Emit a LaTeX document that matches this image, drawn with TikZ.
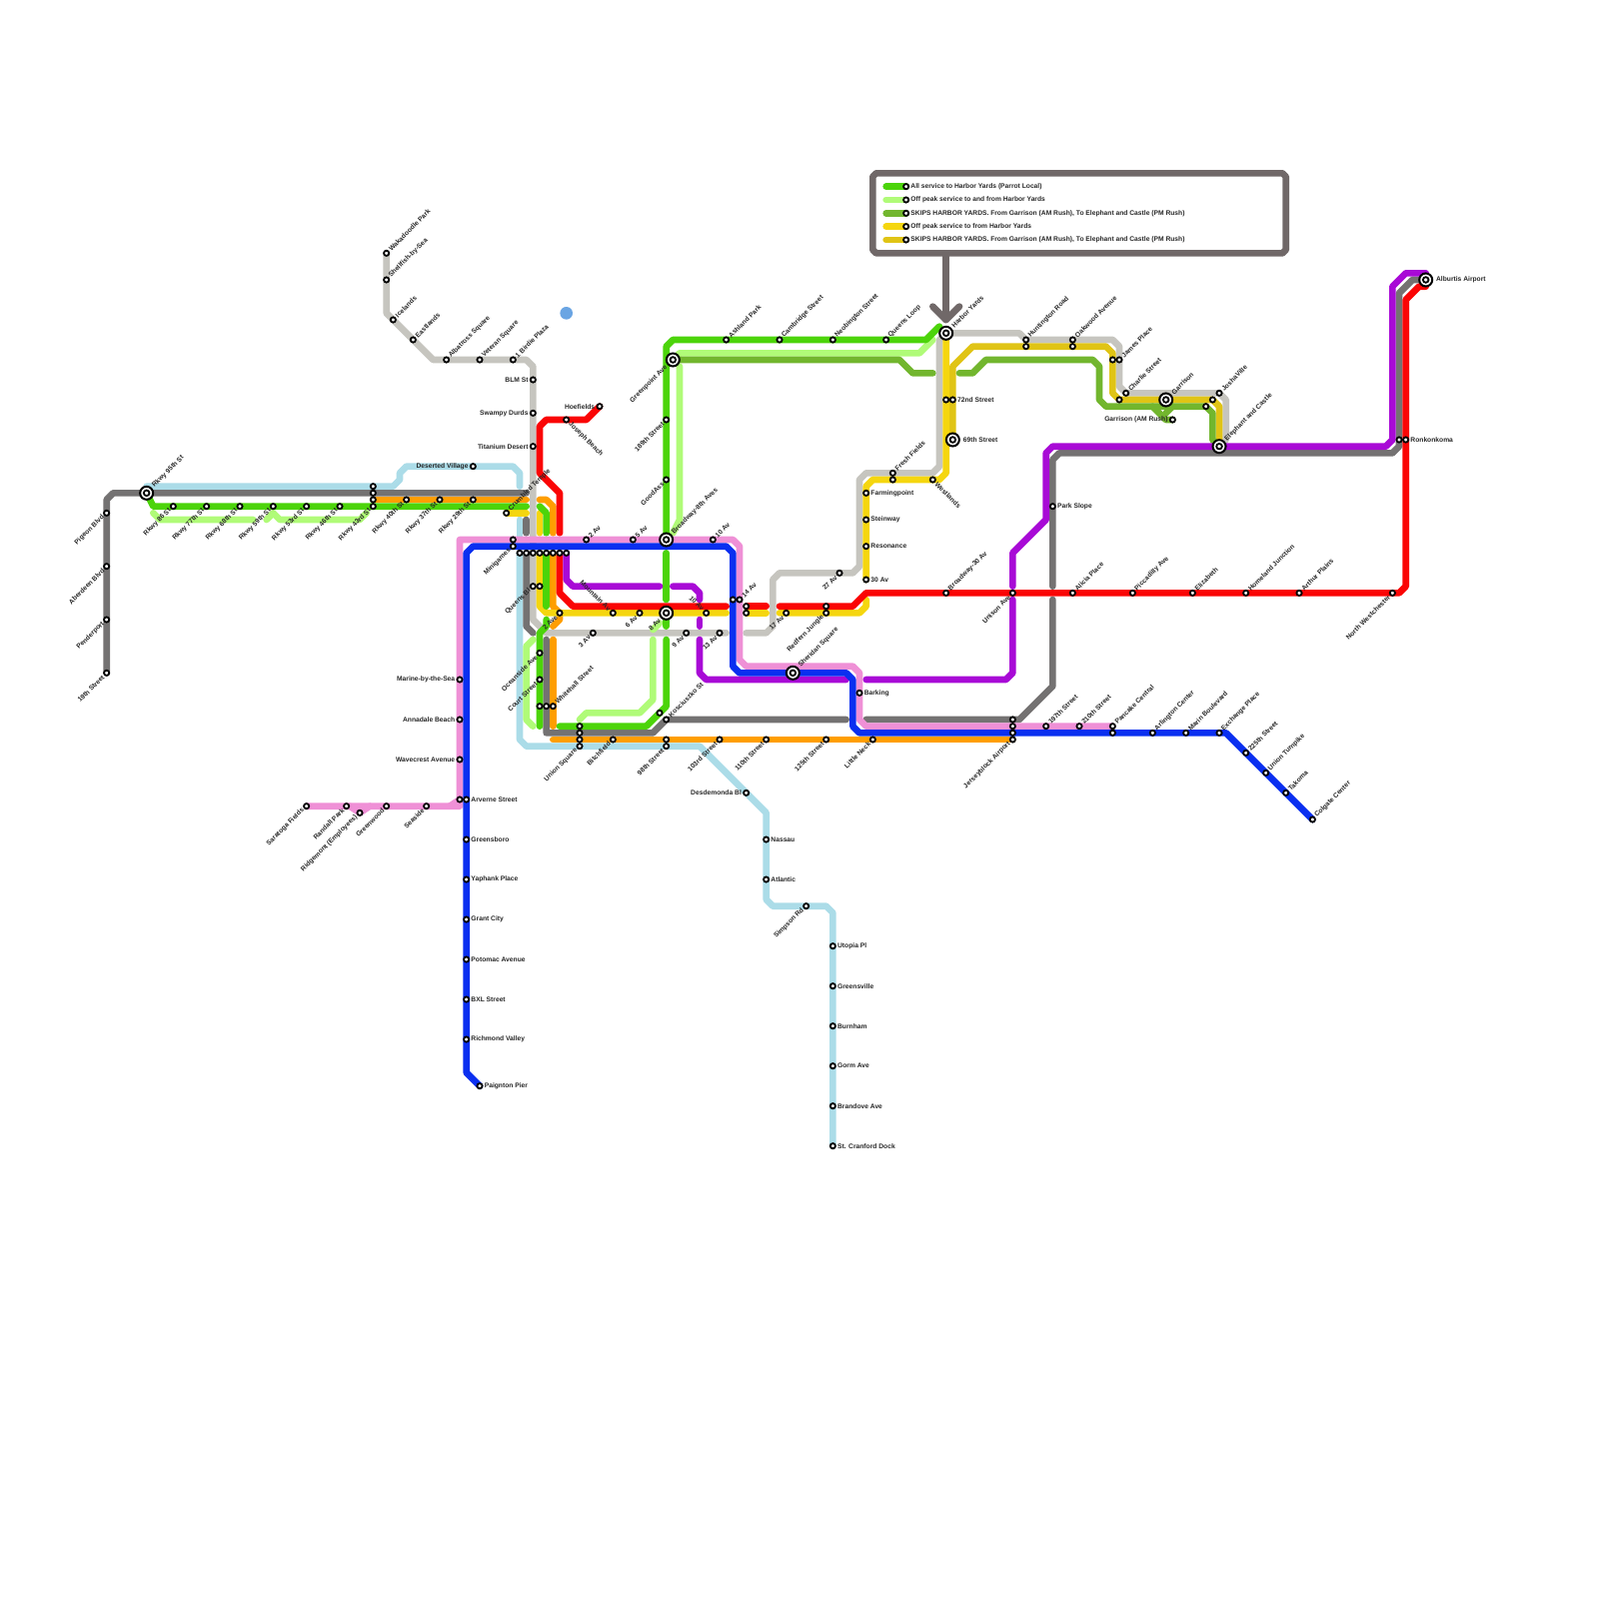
\documentclass[tikz,border=0pt]{standalone}
\usepackage{fontspec}
\setmainfont{Liberation Sans}
\usetikzlibrary{backgrounds}
\definecolor{lnGreen}{HTML}{4CD40A}
\definecolor{lnLime}{HTML}{B0FB78}
\definecolor{lnMoss}{HTML}{72B62E}
\definecolor{lnYellow}{HTML}{F5D60F}
\definecolor{lnGold}{HTML}{E0C415}
\definecolor{lnOrange}{HTML}{FF9E00}
\definecolor{lnRed}{HTML}{FA0505}
\definecolor{lnBlue}{HTML}{0A2FF0}
\definecolor{lnPink}{HTML}{EF90D6}
\definecolor{lnPurple}{HTML}{A80AD6}
\definecolor{lnGray}{HTML}{747272}
\definecolor{lnSilver}{HTML}{C6C5BF}
\definecolor{lnSky}{HTML}{ABDCE8}
\definecolor{lnBox}{HTML}{706868}
\definecolor{lnDot}{HTML}{6AA5E3}
\begin{document}
\begin{tikzpicture}[
  x=1mm, y=-1mm,
  stn/.style={circle, draw=black, fill=white, line width=.27mm, inner sep=0pt, minimum size=.78mm},
  hub/.style={circle, draw=black, fill=white, line width=.3mm, inner sep=0pt, minimum size=1.95mm,
    path picture={\draw[black, line width=.27mm] (path picture bounding box.center) circle (.42mm);}},
  edge/.style={line width=1mm, line cap=round, line join=round},
  lab/.style={font=\fontsize{2.86pt}{3pt}\selectfont\bfseries, inner ysep=0pt, inner xsep=.65mm, text=black!85},
  ne/.style={append after command={(\tikzlastnode.center) node[lab, rotate=45, anchor=west] {#1}}},
  sw/.style={append after command={(\tikzlastnode.center) node[lab, rotate=45, anchor=east] {#1}}},
  se/.style={append after command={(\tikzlastnode.center) node[lab, rotate=-45, anchor=west] {#1}}},
  nw/.style={append after command={(\tikzlastnode.center) node[lab, rotate=-45, anchor=east] {#1}}},
  rt/.style={append after command={(\tikzlastnode.center) node[lab, anchor=west] {#1}}},
  lf/.style={append after command={(\tikzlastnode.center) node[lab, anchor=east] {#1}}},
  hne/.style={append after command={(\tikzlastnode.center) node[lab, inner xsep=1.35mm, rotate=45, anchor=west] {#1}}},
  hsw/.style={append after command={(\tikzlastnode.center) node[lab, inner xsep=1.35mm, rotate=45, anchor=east] {#1}}},
  hrt/.style={append after command={(\tikzlastnode.center) node[lab, inner xsep=1.5mm, anchor=west] {#1}}}
]
  \useasboundingbox (0,0) rectangle (240,240);

  % Legend
  \node[stn, rt={All service to Harbor Yards (Parrot Local)}] (leg1) at (136,28) {};
  \node[stn, rt={Off peak service to and from Harbor Yards}] (leg2) at (136,30) {};
  \node[stn, rt={SKIPS HARBOR YARDS. From Garrison (AM Rush), To Elephant and Castle (PM Rush)}] (leg3) at (136,32) {};
  \node[stn, rt={Off peak service to from Harbor Yards}] (leg4) at (136,34) {};
  \node[stn, rt={SKIPS HARBOR YARDS. From Garrison (AM Rush), To Elephant and Castle (PM Rush)}] (leg5) at (136,36) {};
  \coordinate (swatch1) at (133,28);
  \coordinate (swatch2) at (133,30);
  \coordinate (swatch3) at (133,32);
  \coordinate (swatch4) at (133,34);
  \coordinate (swatch5) at (133,36);
  \coordinate (stemTop) at (142,38);
  \coordinate (stemTip) at (142,48);
  \coordinate (tipLeft) at (140,46);
  \coordinate (tipRight) at (144,46);
  \node[circle, fill=lnDot, inner sep=0pt, minimum size=1.9mm] (dot) at (85,47) {};

  % Parkway and west side
  \node[stn, sw={Pigeon Blvd}] (pigeon) at (16,77) {};
  \node[stn, sw={Aberdeen Blvd}] (aberdeen) at (16,85) {};
  \node[stn, sw={Penderport}] (penderport) at (16,93) {};
  \node[stn, sw={19th Street}] (st19) at (16,101) {};
  \node[hub, hne={Rkwy 95th St}] (rk95) at (22,74) {};
  \node[stn, sw={Rkwy 86 St}] (rk86) at (26,76) {};
  \node[stn, sw={Rkwy 77th St}] (rk77) at (31,76) {};
  \node[stn, sw={Rkwy 68th St}] (rk68) at (36,76) {};
  \node[stn, sw={Rkwy 59th St}] (rk59) at (41,76) {};
  \node[stn, sw={Rkwy 53rd St}] (rk53) at (46,76) {};
  \node[stn, sw={Rkwy 46th St}] (rk46) at (51,76) {};
  \node[stn] (rk43a) at (56,73) {};
  \node[stn] (rk43b) at (56,74) {};
  \node[stn] (rk43c) at (56,75) {};
  \node[stn, sw={Rkwy 43rd St}] (rk43) at (56,76) {};
  \node[stn, sw={Rkwy 40th St}] (rk40) at (61,75) {};
  \node[stn, sw={Rkwy 37th St}] (rk37) at (66,75) {};
  \node[stn, sw={Rkwy 29th St}] (rk29) at (71,75) {};
  \node[stn, lf={Deserted Village}] (deserted) at (71,70) {};
  \node[stn, ne={Crumbled Temple}] (crumbled) at (76,77) {};

  % Silver north branch
  \node[stn, ne={Wakadoodle Park}] (waka) at (58,38) {};
  \node[stn, ne={Shellfish-by-Sea}] (shellfish) at (58,42) {};
  \node[stn, ne={Icelands}] (icelands) at (59,48) {};
  \node[stn, ne={Eastlands}] (eastlands) at (62,51) {};
  \node[stn, ne={Albatross Square}] (albatross) at (67,54) {};
  \node[stn, ne={Veteran Square}] (veteran) at (72,54) {};
  \node[stn, ne={1 Birdie Plaza}] (birdie) at (77,54) {};
  \node[stn, lf={BLM St}] (blm) at (80,57) {};
  \node[stn, lf={Swampy Durds}] (swampy) at (80,62) {};
  \node[stn, lf={Titanium Desert}] (titanium) at (80,67) {};
  \node[stn, lf={Hoefields}] (hoefields) at (90,61) {};
  \node[stn, se={Joseph Beach}] (joseph) at (85,63) {};

  % Central interchange
  \node[stn] (mini1) at (77,81) {};
  \node[stn, sw={Minigames}] (mini) at (77,82) {};
  \node[stn] (rowA) at (78,83) {};
  \node[stn] (rowB) at (79,83) {};
  \node[stn] (rowC) at (80,83) {};
  \node[stn] (rowD) at (81,83) {};
  \node[stn] (rowE) at (82,83) {};
  \node[stn] (rowF) at (83,83) {};
  \node[stn] (rowG) at (84,83) {};
  \node[stn] (rowH) at (85,83) {};
  \node[stn, sw={Queens Bl}] (queens) at (80,88) {};
  \node[stn] (queens2) at (81,88) {};
  \node[stn, ne={2 Av}] (av2n) at (88,81) {};
  \node[stn, ne={5 Av}] (av5) at (95,81) {};
  \node[hub, hne={Broadway-8th Aves}] (bway8) at (100,81) {};
  \node[stn, ne={10 Av}] (av10n) at (107,81) {};
  \node[stn, sw={2 Ave}] (ave2) at (84,92) {};
  \node[stn, nw={Mountain Av}] (mountain) at (92,92) {};
  \node[stn, sw={6 Av}] (av6) at (96,92) {};
  \node[hub, hsw={8 Av}] (av8) at (100,92) {};
  \node[stn, nw={10 Av}] (av10) at (106,92) {};
  \node[stn, sw={3 Av}] (av3) at (89,95) {};
  \node[stn, sw={9 Av}] (av9) at (103,95) {};
  \node[stn, sw={13 Av}] (av13) at (108,95) {};
  \node[stn] (av14a) at (110,90) {};
  \node[stn, ne={14 Av}] (av14) at (111,90) {};
  \node[stn] (av14b) at (112,91) {};
  \node[stn] (av14c) at (112,92) {};
  \node[stn, sw={17 Av}] (av17) at (118,92) {};
  \node[stn] (redfern1) at (124,91) {};
  \node[stn, sw={Redfern Jungle}] (redfern) at (124,92) {};
  \node[stn, sw={27 Av}] (av27) at (126,86) {};
  \node[stn, rt={30 Av}] (av30) at (130,87) {};
  \node[hub, hne={Sheridan Square}] (sheridan) at (119,101) {};
  \node[stn, rt={Barking}] (barking) at (129,104) {};

  % South of the interchange
  \node[stn, sw={Oceanside Ave}] (oceanside) at (81,98) {};
  \node[stn, sw={Court Street}] (court) at (81,102) {};
  \node[stn] (white1) at (81,106) {};
  \node[stn] (white2) at (82,106) {};
  \node[stn, ne={Whitehall Street}] (whitehall) at (83,106) {};
  \node[stn] (kos1) at (99,107) {};
  \node[stn, ne={Kosciuszko St}] (kosciuszko) at (100,108) {};
  \node[stn] (union1) at (87,109) {};
  \node[stn] (union2) at (87,110) {};
  \node[stn] (union3) at (87,111) {};
  \node[stn, sw={Union Square}] (union) at (87,112) {};
  \node[stn, sw={Bitchfield}] (bitchfield) at (92,111) {};
  \node[stn] (st98a) at (100,111) {};
  \node[stn, sw={98th Street}] (st98) at (100,112) {};
  \node[stn, sw={103rd Street}] (st103) at (108,111) {};
  \node[stn, sw={110th Street}] (st110) at (115,111) {};
  \node[stn, sw={125th Street}] (st125) at (124,111) {};
  \node[stn, sw={Little Neck}] (littleneck) at (131,111) {};
  \node[stn, lf={Desdemonda Bl}] (desdemonda) at (112,119) {};
  \node[stn, rt={Nassau}] (nassau) at (115,126) {};
  \node[stn, rt={Atlantic}] (atlantic) at (115,132) {};
  \node[stn, sw={Simpson Rd}] (simpson) at (121,136) {};
  \node[stn, rt={Utopia Pl}] (utopia) at (125,142) {};
  \node[stn, rt={Greensville}] (greensville) at (125,148) {};
  \node[stn, rt={Burnham}] (burnham) at (125,154) {};
  \node[stn, rt={Gorm Ave}] (gorm) at (125,160) {};
  \node[stn, rt={Brandove Ave}] (brandove) at (125,166) {};
  \node[stn, rt={St. Cranford Dock}] (cranford) at (125,172) {};

  % Pink and blue south-west
  \node[stn, lf={Marine-by-the-Sea}] (marine) at (69,102) {};
  \node[stn, lf={Annadale Beach}] (annadale) at (69,108) {};
  \node[stn, lf={Wavecrest Avenue}] (wavecrest) at (69,114) {};
  \node[stn] (arverne1) at (69,120) {};
  \node[stn, rt={Arverne Street}] (arverne) at (70,120) {};
  \node[stn, sw={Saratoga Fields}] (saratoga) at (46,121) {};
  \node[stn, sw={Randall Park}] (randall) at (52,121) {};
  \node[stn, sw={Ridgemont (Employees)}] (ridgemont) at (54,122) {};
  \node[stn, sw={Greenwood}] (greenwood) at (58,121) {};
  \node[stn, sw={Seaside}] (seaside) at (64,121) {};
  \node[stn, rt={Greensboro}] (greensboro) at (70,126) {};
  \node[stn, rt={Yaphank Place}] (yaphank) at (70,132) {};
  \node[stn, rt={Grant City}] (grant) at (70,138) {};
  \node[stn, rt={Potomac Avenue}] (potomac) at (70,144) {};
  \node[stn, rt={BXL Street}] (bxl) at (70,150) {};
  \node[stn, rt={Richmond Valley}] (richmond) at (70,156) {};
  \node[stn, rt={Paignton Pier}] (paignton) at (72,163) {};

  % North side
  \node[hub, hsw={Greenpoint Ave}] (greenpoint) at (101,54) {};
  \node[stn, sw={189th Street}] (st189) at (100,63) {};
  \node[stn, sw={GoodAss}] (goodass) at (100,72) {};
  \node[stn, ne={Ashland Park}] (ashland) at (109,51) {};
  \node[stn, ne={Cambridge Street}] (cambridge) at (117,51) {};
  \node[stn, ne={Neobington Street}] (neobington) at (125,51) {};
  \node[stn, ne={Queens Loop}] (queensloop) at (133,51) {};
  \node[hub, hne={Harbor Yards}] (harbor) at (142,50) {};
  \node[stn] (st72a) at (142,60) {};
  \node[stn, rt={72nd Street}] (st72) at (143,60) {};
  \node[hub, hrt={69th Street}] (st69) at (143,66) {};
  \node[stn, ne={Fresh Fields}] (fresh) at (134,71) {};
  \node[stn] (fresh2) at (134,72) {};
  \node[stn, se={Westlands}] (westlands) at (140,72) {};
  \node[stn, rt={Farmingpoint}] (farming) at (130,74) {};
  \node[stn, rt={Steinway}] (steinway) at (130,78) {};
  \node[stn, rt={Resonance}] (resonance) at (130,82) {};
  \node[stn, ne={Huntington Road}] (huntington) at (154,51) {};
  \node[stn] (huntington2) at (154,52) {};
  \node[stn, ne={Oakwood Avenue}] (oakwood) at (161,51) {};
  \node[stn] (oakwood2) at (161,52) {};
  \node[stn] (james2) at (167,54) {};
  \node[stn, ne={James Place}] (james) at (168,54) {};
  \node[stn] (charlie2) at (168,60) {};
  \node[stn, ne={Charlie Street}] (charlie) at (169,59) {};
  \node[hub, hne={Garrison}] (garrison) at (175,60) {};
  \node[stn, lf={Garrison (AM Rush)}] (garrisonam) at (176,63) {};
  \node[stn] (josha3) at (181,61) {};
  \node[stn] (josha2) at (182,60) {};
  \node[stn, ne={JoshaVille}] (josha) at (183,59) {};
  \node[hub, hne={Elephant and Castle}] (elephant) at (183,67) {};
  \node[stn, rt={Park Slope}] (parkslope) at (158,76) {};
  \node[stn] (ronkon2) at (210,66) {};
  \node[stn, rt={Ronkonkoma}] (ronkon) at (211,66) {};
  \node[hub, hrt={Alburtis Airport}] (alburtis) at (214,42) {};

  % East side
  \node[stn, ne={Broadway-30 Av}] (bway30) at (142,89) {};
  \node[stn, sw={Unison Ave}] (unison) at (152,89) {};
  \node[stn, ne={Alicia Place}] (alicia) at (161,89) {};
  \node[stn, ne={Piccadilly Ave}] (piccadilly) at (170,89) {};
  \node[stn, ne={Elizabeth}] (elizabeth) at (179,89) {};
  \node[stn, ne={Homeland Junction}] (homeland) at (187,89) {};
  \node[stn, ne={Arthur Plains}] (arthur) at (195,89) {};
  \node[stn, sw={North Westchester}] (westchester) at (209,89) {};
  \node[stn] (jersey1) at (152,108) {};
  \node[stn] (jersey2) at (152,109) {};
  \node[stn] (jersey3) at (152,110) {};
  \node[stn, sw={Jerseyblock Airport}] (jersey) at (152,111) {};
  \node[stn, ne={197th Street}] (st197) at (157,109) {};
  \node[stn, ne={210th Street}] (st210) at (162,109) {};
  \node[stn, ne={Pancake Central}] (pancake) at (167,109) {};
  \node[stn] (pancake2) at (167,110) {};
  \node[stn, ne={Arlington Center}] (arlington) at (173,110) {};
  \node[stn, ne={Marin Boulevard}] (marin) at (178,110) {};
  \node[stn, ne={Exchange Place}] (exchange) at (183,110) {};
  \node[stn, ne={225th Street}] (st225) at (187,113) {};
  \node[stn, ne={Union Turnpike}] (turnpike) at (190,116) {};
  \node[stn, ne={Takoma}] (takoma) at (193,119) {};
  \node[stn, ne={Colgate Center}] (colgate) at (197,123) {};

  % Free line ends at the gaps
  \coordinate (skyA) at (78,73);
  \coordinate (skyB) at (78,78);
  \coordinate (skyC) at (78,80.5);
  \coordinate (silverA) at (109,95);
  \coordinate (silverB) at (112,95);
  \coordinate (grayA) at (79,74);
  \coordinate (grayB) at (79,78);
  \coordinate (grayC) at (79,80);
  \coordinate (grayD) at (82,96);
  \coordinate (grayE) at (127,108);
  \coordinate (grayF) at (130,108);
  \coordinate (grayG) at (158,90);
  \coordinate (grayH) at (158,88);
  \coordinate (grayI) at (80,95);
  \coordinate (orangeA) at (79,75);
  \coordinate (orangeB) at (81,75);
  \coordinate (orangeC) at (83,80);
  \coordinate (orangeD) at (83,94);
  \coordinate (orangeE) at (83,96);
  \coordinate (orangeF) at (83,109);
  \coordinate (orangeG) at (83,111);
  \coordinate (yellowA) at (79,77);
  \coordinate (yellowB) at (81,77);
  \coordinate (yellowC) at (81,80);
  \coordinate (yellowD) at (109,92);
  \coordinate (yellowE) at (115,92);
  \coordinate (yellowF) at (117,92);
  \coordinate (yellowG) at (130,90);
  \coordinate (greenA) at (79,76);
  \coordinate (greenB) at (81,76);
  \coordinate (greenC) at (82,80);
  \coordinate (greenD) at (82,91);
  \coordinate (greenE) at (82,93);
  \coordinate (greenF) at (81,109);
  \coordinate (greenG) at (84,109);
  \coordinate (greenH) at (100,90);
  \coordinate (greenI) at (100,96);
  \coordinate (greenJ) at (141,49);
  \coordinate (greenK) at (100,83);
  \coordinate (greenL) at (100,94);
  \coordinate (limeA) at (23,77);
  \coordinate (limeB) at (38,78);
  \coordinate (limeC) at (40,78);
  \coordinate (limeD) at (55,77);
  \coordinate (limeE) at (140,51);
  \coordinate (limeF) at (102,55);
  \coordinate (limeG) at (101,80);
  \coordinate (limeH) at (99,93.5);
  \coordinate (limeI) at (98,94.5);
  \coordinate (limeJ) at (98,96);
  \coordinate (limeK) at (87,108);
  \coordinate (limeL) at (80,96);
  \coordinate (limeM) at (80,109);
  \coordinate (mossA) at (140,56);
  \coordinate (mossB) at (144,56);
  \coordinate (mossC) at (173,61);
  \coordinate (mossD) at (176,61);
  \coordinate (mossE) at (175,62);
  \coordinate (redA) at (84,80);
  \coordinate (redB) at (109,91);
  \coordinate (redC) at (115,91);
  \coordinate (redD) at (117,91);
  \coordinate (purpleA) at (99,88);
  \coordinate (purpleB) at (101,88);
  \coordinate (purpleC) at (105,90);
  \coordinate (purpleD) at (105,93);
  \coordinate (purpleE) at (105,94);
  \coordinate (purpleF) at (105,96);
  \coordinate (purpleG) at (127,102);
  \coordinate (purpleH) at (130,102);
  \coordinate (purpleI) at (152,90);
  \coordinate (purpleJ) at (152,88);
  \coordinate (pinkA) at (52.5,121);
  \coordinate (pinkB) at (55.5,121);
  \coordinate (pinkC) at (67.5,121);

  \begin{scope}[on background layer]
    % Legend box
    \draw[edge, lnBox] (131.5,26) -- (192.5,26) -- (193,26.5) -- (193,37.5) -- (192.5,38) -- (131.5,38) -- (131,37.5) -- (131,26.5) -- cycle;
    \draw[edge, lnBox] (stemTop) -- (stemTip);
    \draw[edge, lnBox] (tipLeft) -- (stemTip) -- (tipRight);
    \draw[edge, lnGreen] (swatch1) -- (leg1.center);
    \draw[edge, lnLime] (swatch2) -- (leg2.center);
    \draw[edge, lnMoss] (swatch3) -- (leg3.center);
    \draw[edge, lnYellow] (swatch4) -- (leg4.center);
    \draw[edge, lnGold] (swatch5) -- (leg5.center);

    % Sky line
    \draw[edge, lnSky] (rk95.center) -- (22,73) -- (59,73) -- (60,72) -- (60,71) -- (61,70) -- (77,70) -- (78,71) -- (skyA);
    \draw[edge, lnSky] (skyB) -- (skyC);
    \draw[edge, lnSky] (rowA.center) -- (78,111) -- (79,112) -- (105,112) -- (115,122) -- (115,135) -- (116,136) -- (124,136) -- (125,137) -- (cranford.center);

    % Silver line
    \draw[edge, lnSilver] (waka.center) -- (58,47) -- (65,54) -- (79,54) -- (80,55) -- (rowC.center) -- (80,93) -- (82,95) -- (silverA);
    \draw[edge, lnSilver] (silverB) -- (115,95) -- (116,94) -- (116,87) -- (117,86) -- (128,86) -- (129,85) -- (129,72) -- (130,71) -- (140,71) -- (141,70) -- (141,51) -- (harbor.center);
    \draw[edge, lnSilver] (harbor.center) -- (153,50) -- (154,51) -- (167,51) -- (168,52) -- (168,58) -- (169,59) -- (183,59) -- (184,60) -- (184,66) -- (elephant.center);

    % Gray line
    \draw[edge, lnGray] (st19.center) -- (16,75) -- (17,74) -- (grayA);
    \draw[edge, lnGray] (grayB) -- (grayC);
    \draw[edge, lnGray] (rowB.center) -- (79,94) -- (grayI);
    \draw[edge, lnGray] (grayD) -- (82,110) -- (98,110) -- (100,108) -- (grayE);
    \draw[edge, lnGray] (grayF) -- (153,108) -- (158,103) -- (grayG);
    \draw[edge, lnGray] (grayH) -- (158,69) -- (159,68) -- (209,68) -- (210,67) -- (210,44) -- (212,42) -- (alburtis.center);

    % Orange line
    \draw[edge, lnOrange] (rk43c.center) -- (orangeA);
    \draw[edge, lnOrange] (orangeB) -- (82,75) -- (83,76) -- (orangeC);
    \draw[edge, lnOrange] (rowF.center) -- (83,91) -- (84,92) -- (84,93) -- (orangeD);
    \draw[edge, lnOrange] (orangeE) -- (orangeF);
    \draw[edge, lnOrange] (orangeG) -- (jersey.center);

    % Gold and yellow lines
    \draw[edge, lnGold] (st69.center) -- (143,55) -- (146,52) -- (166,52) -- (167,53) -- (167,59) -- (168,60) -- (182,60) -- (183,61) -- (elephant.center);
    \draw[edge, lnYellow] (crumbled.center) -- (yellowA);
    \draw[edge, lnYellow] (yellowB) -- (yellowC);
    \draw[edge, lnYellow] (rowD.center) -- (81,91) -- (82,92) -- (yellowD);
    \draw[edge, lnYellow] (av14c.center) -- (yellowE);
    \draw[edge, lnYellow] (yellowF) -- (129,92) -- (130,91) -- (yellowG);
    \draw[edge, lnYellow] (av30.center) -- (130,73) -- (131,72) -- (141,72) -- (142,71) -- (harbor.center);

    % Green lines
    \draw[edge, lnLime] (limeA) -- (24,78) -- (limeB);
    \draw[edge, lnLime] (limeC) -- (41,77) -- (42,78) -- (54,78) -- (limeD);
    \draw[edge, lnLime] (limeE) -- (138,53) -- (102,53) -- (greenpoint.center);
    \draw[edge, lnLime] (limeF) -- (102,78) -- (limeG);
    \draw[edge, lnLime] (limeH) -- (limeI);
    \draw[edge, lnLime] (limeJ) -- (98,105) -- (96,107) -- (88,107) -- (limeK);
    \draw[edge, lnLime] (limeL) -- (79,97) -- (79,108) -- (limeM);
    \draw[edge, lnMoss] (greenpoint.center) -- (135,54) -- (137,56) -- (mossA);
    \draw[edge, lnMoss] (mossB) -- (146,56) -- (148,54) -- (164,54) -- (165,55) -- (165,60) -- (166,61) -- (181,61) -- (182,62) -- (182,66) -- (elephant.center);
    \draw[edge, lnMoss] (mossC) -- (175,63) -- (garrisonam.center);
    \draw[edge, lnMoss] (mossD) -- (mossE);
    \draw[edge, lnGreen] (rk95.center) -- (23,76) -- (greenA);
    \draw[edge, lnGreen] (greenB) -- (82,77) -- (greenC);
    \draw[edge, lnGreen] (rowE.center) -- (greenD);
    \draw[edge, lnGreen] (greenE) -- (82,94) -- (81,95) -- (greenF);
    \draw[edge, lnGreen] (greenG) -- (97,109) -- (100,106) -- (greenI);
    \draw[edge, lnGreen] (av8.center) -- (greenL);
    \draw[edge, lnGreen] (greenK) -- (greenH);
    \draw[edge, lnGreen] (bway8.center) -- (100,52) -- (101,51) -- (139,51) -- (greenJ);

    % Red line
    \draw[edge, lnRed] (hoefields.center) -- (88,63) -- (82,63) -- (81,64) -- (81,71) -- (84,74) -- (redA);
    \draw[edge, lnRed] (rowG.center) -- (84,89) -- (86,91) -- (redB);
    \draw[edge, lnRed] (av14b.center) -- (redC);
    \draw[edge, lnRed] (redD) -- (128,91) -- (130,89) -- (210,89) -- (211,88) -- (211,45) -- (213,43) -- (214,43);

    % Purple line
    \draw[edge, lnPurple] (rowH.center) -- (85,87) -- (86,88) -- (purpleA);
    \draw[edge, lnPurple] (purpleB) -- (104,88) -- (105,89) -- (purpleC);
    \draw[edge, lnPurple] (purpleD) -- (purpleE);
    \draw[edge, lnPurple] (purpleF) -- (105,101) -- (106,102) -- (purpleG);
    \draw[edge, lnPurple] (purpleH) -- (151,102) -- (152,101) -- (purpleI);
    \draw[edge, lnPurple] (purpleJ) -- (152,83) -- (157,78) -- (157,68) -- (158,67) -- (208,67) -- (209,66) -- (209,43) -- (211,41) -- (214,41);

    % Pink and blue lines
    \draw[edge, lnPink] (saratoga.center) -- (69,121) -- (69,81) -- (110,81) -- (111,82) -- (111,99) -- (112,100) -- (128,100) -- (129,101) -- (129,108) -- (130,109) -- (pancake.center);
    \draw[edge, lnPink] (pinkA) -- (ridgemont.center) -- (pinkB);
    \draw[edge, lnPink] (pinkC) -- (arverne1.center);
    \draw[edge, lnBlue] (paignton.center) -- (70,161) -- (70,83) -- (71,82) -- (109,82) -- (110,83) -- (110,100) -- (111,101) -- (127,101) -- (128,102) -- (128,109) -- (129,110) -- (184,110) -- (colgate.center);
  \end{scope}
\end{tikzpicture}
\end{document}
